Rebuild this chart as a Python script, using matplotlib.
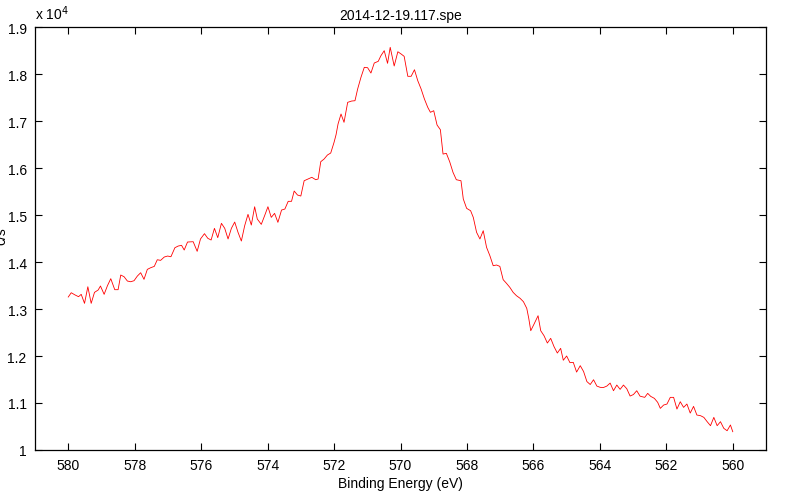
import matplotlib
matplotlib.use("Agg")
import matplotlib.pyplot as plt
from matplotlib.ticker import FuncFormatter

plt.rcParams['font.family'] = ['Liberation Sans', 'DejaVu Sans']

# spectrum (binding energy in eV, counts per second)
energy = [
    580.00, 579.91, 579.79, 579.69, 579.61, 579.51, 579.41, 579.31, 579.21, 579.10,
    579.03, 578.92, 578.82, 578.72, 578.60, 578.50, 578.42, 578.32, 578.22, 578.12,
    578.02, 577.92, 577.82, 577.72, 577.62, 577.52, 577.41, 577.32, 577.22, 577.11,
    577.01, 576.91, 576.79, 576.69, 576.59, 576.51, 576.41, 576.24, 576.12, 576.02,
    575.90, 575.80, 575.70, 575.60, 575.50, 575.39, 575.29, 575.19, 575.09, 574.99,
    574.89, 574.79, 574.69, 574.59, 574.49, 574.39, 574.31, 574.19, 574.09, 573.99,
    573.89, 573.79, 573.69, 573.58, 573.48, 573.38, 573.28, 573.20, 573.10, 573.00,
    572.90, 572.78, 572.67, 572.55, 572.48, 572.40, 572.30, 572.20, 572.10, 572.00,
    571.94, 571.88, 571.79, 571.70, 571.59, 571.47, 571.37, 571.29, 571.19, 571.09,
    570.99, 570.89, 570.79, 570.67, 570.59, 570.49, 570.39, 570.31, 570.19, 570.08,
    569.98, 569.89, 569.78, 569.68, 569.58, 569.48, 569.38, 569.28, 569.18, 569.10,
    569.00, 568.90, 568.80, 568.72, 568.62, 568.52, 568.42, 568.32, 568.18, 568.11,
    568.01, 567.89, 567.81, 567.71, 567.61, 567.51, 567.41, 567.31, 567.21, 567.11,
    567.01, 566.91, 566.81, 566.71, 566.61, 566.51, 566.40, 566.30, 566.20, 566.14,
    566.08, 565.98, 565.86, 565.78, 565.68, 565.58, 565.48, 565.38, 565.28, 565.18,
    565.10, 565.00, 564.90, 564.80, 564.70, 564.59, 564.49, 564.39, 564.29, 564.19,
    564.09, 563.99, 563.89, 563.79, 563.69, 563.59, 563.49, 563.39, 563.29, 563.19,
    563.09, 562.99, 562.89, 562.79, 562.65, 562.56, 562.47, 562.36, 562.26, 562.18,
    562.08, 561.98, 561.88, 561.78, 561.68, 561.58, 561.48, 561.38, 561.28, 561.18,
    561.08, 560.97, 560.87, 560.77, 560.67, 560.57, 560.47, 560.37, 560.27, 560.17,
    560.07, 560.00,
]
counts = [
    13255, 13346, 13297, 13262, 13312, 13120, 13474, 13120, 13354, 13404,
    13489, 13312, 13496, 13645, 13411, 13411, 13723, 13687, 13595, 13580,
    13602, 13701, 13772, 13631, 13843, 13878, 13907, 14048, 14035, 14106,
    14127, 14112, 14304, 14340, 14355, 14255, 14425, 14432, 14227, 14490,
    14603, 14504, 14468, 14716, 14518, 14823, 14716, 14490, 14716, 14850,
    14631, 14446, 14772, 15014, 14786, 15176, 14914, 14801, 14985, 15176,
    14950, 15035, 14844, 15106, 15127, 15291, 15291, 15510, 15425, 15404,
    15729, 15766, 15802, 15751, 15766, 16134, 16191, 16276, 16319, 16546,
    16708, 16936, 17149, 16972, 17397, 17425, 17432, 17681, 17930, 18142,
    18134, 18021, 18234, 18270, 18389, 18496, 18227, 18568, 18170, 18474,
    18425, 18376, 17951, 17951, 18091, 17857, 17681, 17468, 17291, 17185,
    17219, 16915, 16815, 16297, 16312, 16134, 15908, 15751, 15729, 15340,
    15142, 15091, 14950, 14631, 14490, 14666, 14312, 14134, 13921, 13936,
    13907, 13624, 13546, 13461, 13354, 13283, 13227, 13155, 13014, 12801,
    12538, 12680, 12857, 12538, 12431, 12276, 12376, 12200, 12063, 12163,
    11910, 12000, 11858, 11865, 11658, 11794, 11670, 11456, 11393, 11495,
    11360, 11333, 11330, 11360, 11424, 11261, 11382, 11290, 11382, 11304,
    11148, 11180, 11261, 11145, 11120, 11205, 11141, 11099, 11014, 10886,
    10957, 10978, 11120, 11120, 10871, 11027, 10907, 10978, 10786, 10928,
    10744, 10730, 10694, 10602, 10517, 10694, 10517, 10602, 10461, 10410,
    10532, 10389,
]
x_ticks = [580, 578, 576, 574, 572, 570, 568, 566, 564, 562, 560]
y_ticks = [10000, 11000, 12000, 13000, 14000, 15000, 16000, 17000, 18000, 19000]

fig = plt.figure(figsize=(7.87, 5.02), dpi=100)
ax = fig.add_axes([0.0445, 0.1016, 0.9288, 0.8426])

ax.plot(energy, counts, color='red', linewidth=0.6)

ax.set_xlim(581, 559)
ax.set_ylim(10000, 19000)
ax.set_xticks(x_ticks)
ax.set_yticks(y_ticks)
ax.yaxis.set_major_formatter(FuncFormatter(lambda v, p: f"{v / 1e4:g}"))

ax.tick_params(direction='in', length=5, width=0.8, labelsize=10,
               top=True, right=True, pad=6)
for s in ax.spines.values():
    s.set_linewidth(0.9)

ax.set_title('2014-12-19.117.spe', fontsize=10, pad=6)
ax.set_xlabel('Binding Energy (eV)', fontsize=10, labelpad=3)
# the label sits partly outside the canvas, as in the original export
ax.set_ylabel('c/s', fontsize=10)
ax.yaxis.set_label_coords(-0.037, 0.508)

# MATLAB style exponent label
ax.text(0.0, 1.012, r'x 10$^{4}$', transform=ax.transAxes, fontsize=10,
        ha='left', va='bottom')

fig.savefig('out.png', dpi=100)
